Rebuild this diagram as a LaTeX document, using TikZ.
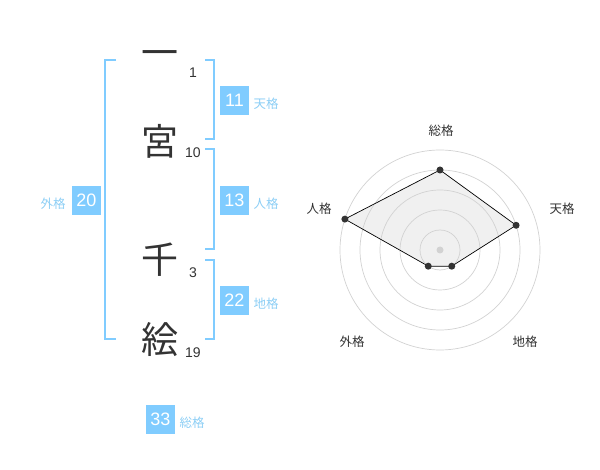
\documentclass[tikz,border=0pt]{standalone}
\usepackage{fontspec}
\setmainfont{Liberation Sans}
\newfontfamily\jpfont{Noto Sans CJK JP}
\definecolor{kakublue}{RGB}{128,204,255}
\definecolor{kakutext}{RGB}{140,206,245}
\definecolor{ink}{RGB}{51,51,51}
\definecolor{ringgray}{RGB}{210,210,210}
\definecolor{areagray}{RGB}{240,240,240}

\begin{document}
\begin{tikzpicture}[x=1pt,y=-1pt]
\tikzset{kanji/.style = {font=\jpfont\fontsize{37}{37}\selectfont, text=ink, inner sep=0pt},
  strokes/.style = {font=\fontsize{14}{14}\selectfont, text=ink, inner sep=0pt},
  kakubox/.style = {fill=kakublue, text=white, minimum size=29pt, inner sep=0pt, font=\fontsize{18}{18}\selectfont},
  kakulabel/.style = {font=\jpfont\fontsize{12.5}{12.5}\selectfont, text=kakutext, inner sep=0pt},
  axislabel/.style = {font=\jpfont\fontsize{12.5}{12.5}\selectfont, text=ink, inner sep=0pt},
  bracket/.style = {draw=kakublue, line width=2pt},
  ring/.style = {draw=ringgray, line width=0.7pt},
  dot/.style = {shape=circle, fill=ink, inner sep=0pt, minimum size=7pt}}
\useasboundingbox (0,0) rectangle (600,470);

% name
\node[kanji] (K1) at (160,59) {一};
\node[kanji] (K2) at (160,141) {宮};
\node[kanji] (K3) at (160,260) {千};
\node[kanji] (K4) at (160,340) {絵};
\node[strokes] (S1) at (193,73) {1};
\node[strokes] (S2) at (193,153) {10};
\node[strokes] (S3) at (193,273) {3};
\node[strokes] (S4) at (193,353) {19};

% brackets
\draw[bracket] (116,60) -- (105,60) -- (105,339) -- (116,339);
\draw[bracket] (205,60) -- (214,60) -- (214,139) -- (205,139);
\draw[bracket] (205,149) -- (214,149) -- (214,249) -- (205,249);
\draw[bracket] (205,260) -- (214,260) -- (214,339) -- (205,339);

% kaku
\node[kakubox] (ten) at (234.5,100.5) {11};
\node[kakubox] (jin) at (234.5,200.5) {13};
\node[kakubox] (chi) at (234.5,300.5) {22};
\node[kakubox] (gai) at (86.5,200.5) {20};
\node[kakubox] (sou) at (160.5,419.5) {33};
\node[kakulabel] (tenL) at (266,104) {天格};
\node[kakulabel] (jinL) at (266,204) {人格};
\node[kakulabel] (chiL) at (266,304) {地格};
\node[kakulabel] (gaiL) at (53,204) {外格};
\node[kakulabel] (souL) at (192,423) {総格};

% radar
\begin{scope}[shift={(440,250)}]
\coordinate (pSou) at (-90:80);
\coordinate (pTen) at (-18:80);
\coordinate (pChi) at (54:20);
\coordinate (pGai) at (126:20);
\coordinate (pJin) at (-162:100);
\fill[areagray] (pSou) -- (pTen) -- (pChi) -- (pGai) -- (pJin) -- cycle;
\foreach \r in {20,40,...,100}
  \draw[ring] (0,0) circle (\r pt);
\fill[ringgray] (0,0) circle (3.5pt);
\draw[black, line width=0.7pt] (pSou) -- (pTen) -- (pChi) -- (pGai) -- (pJin) -- cycle;
\node[dot] (dSou) at (pSou) {};
\node[dot] (dTen) at (pTen) {};
\node[dot] (dChi) at (pChi) {};
\node[dot] (dGai) at (pGai) {};
\node[dot] (dJin) at (pJin) {};
\end{scope}
\node[axislabel] (aSou) at (441,131) {総格};
\node[axislabel] (aTen) at (562,209) {天格};
\node[axislabel] (aJin) at (319,209) {人格};
\node[axislabel] (aGai) at (352,342) {外格};
\node[axislabel] (aChi) at (525,342) {地格};
\end{tikzpicture}
\end{document}
